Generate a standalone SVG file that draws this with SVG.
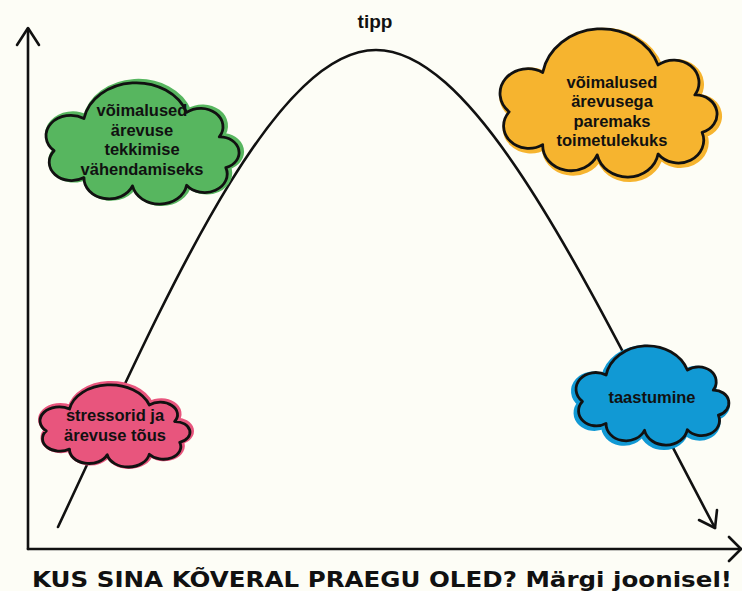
<svg xmlns="http://www.w3.org/2000/svg" xmlns:xlink="http://www.w3.org/1999/xlink" width="742" height="591" viewBox="0 0 742 591">
  <style>
    .bg { fill: #fdfdf6; }
    .axis, .curve, .head { fill: none; stroke: #111; stroke-width: 2.6; stroke-linecap: round; stroke-linejoin: round; }
    .halo { stroke-width: 6; stroke-linejoin: round; }
    .outline { stroke: #111; stroke-width: 2.8; stroke-linejoin: round; }
    .lbl { font-family: "Liberation Sans", Arial, sans-serif; font-weight: bold; font-size: 16.5px; fill: #111; text-anchor: middle; }
    .tipp { font-size: 19px; }
    .title { font-family: "DejaVu Sans", "Liberation Sans", sans-serif; font-weight: bold; font-size: 21px; fill: #111; }
    .green { fill: #57b65f; stroke: #57b65f; }
    .orange { fill: #f6b42f; stroke: #f6b42f; }
    .pink { fill: #e8557d; stroke: #e8557d; }
    .blue { fill: #1199d4; stroke: #1199d4; }
  </style>
  <defs>
    <path id="cloud" vector-effect="non-scaling-stroke" d="M8,80 A26.5,26.5 0 0 1 40,38 A57,57 0 0 1 150,30 A24,24 0 0 1 185,62 A20.5,20.5 0 0 1 192,102 A24.2,24.2 0 0 1 150,125 A29.5,29.5 0 0 1 92,126 A27,27 0 0 1 40,115 A24,24 0 0 1 8,80 Z"/>
  </defs>
  <rect class="bg" x="0" y="0" width="742" height="591"/>

  <g id="connectors">
    <path class="axis" d="M28,549 V29"/>
    <path class="head" d="M17,45 L28,28 L39,45"/>
    <path class="axis" d="M28,549 H741"/>
    <path class="head" d="M729,537 L741,549 L729,561"/>
    <path class="curve" d="M58,527 C160,310 270,50 376,50 C482,50 598,308 715,528"/>
    <path class="head" d="M699,520 L715,528 L717,510"/>
  </g>

  <g id="tipp">
    <text class="lbl tipp" x="375" y="28">tipp</text>
  </g>

  <g id="cloud-green">
    <use xlink:href="#cloud" class="green halo" transform="translate(48,82) scale(0.933,0.766) translate(0.7,8.4)"/>
    <use xlink:href="#cloud" class="green outline" style="stroke:#111" transform="translate(46,83) scale(0.933,0.766) translate(0.7,8.4)"/>
    <text class="lbl" x="142" y="116">võimalused</text>
    <text class="lbl" x="142" y="135.7">ärevuse</text>
    <text class="lbl" x="142" y="155.3">tekkimise</text>
    <text class="lbl" x="142" y="175">vähendamiseks</text>
  </g>

  <g id="cloud-orange">
    <use xlink:href="#cloud" class="orange halo" transform="translate(502,31) scale(1.049,0.937) translate(0.7,8.4)"/>
    <use xlink:href="#cloud" class="orange outline" style="stroke:#111" transform="translate(500,29) scale(1.049,0.937) translate(0.7,8.4)"/>
    <text class="lbl" x="612" y="88">võimalused</text>
    <text class="lbl" x="612" y="107.3">ärevusega</text>
    <text class="lbl" x="612" y="126.7">paremaks</text>
    <text class="lbl" x="612" y="146">toimetulekuks</text>
  </g>

  <g id="cloud-pink">
    <use xlink:href="#cloud" class="pink halo" transform="translate(41,384) scale(0.725,0.519) translate(0.7,8.4)"/>
    <use xlink:href="#cloud" class="pink outline" style="stroke:#111" transform="translate(40,385) scale(0.725,0.519) translate(0.7,8.4)"/>
    <text class="lbl" x="115" y="421">stressorid ja</text>
    <text class="lbl" x="115" y="441">ärevuse tõus</text>
  </g>

  <g id="cloud-blue">
    <use xlink:href="#cloud" class="blue halo" transform="translate(574,348) scale(0.739,0.627) translate(0.7,8.4)"/>
    <use xlink:href="#cloud" class="blue outline" style="stroke:#111" transform="translate(576,346) scale(0.739,0.627) translate(0.7,8.4)"/>
    <text class="lbl" x="652" y="403">taastumine</text>
  </g>

  <g id="title">
    <text class="title" x="32" y="587" textLength="700" lengthAdjust="spacingAndGlyphs">KUS SINA KÕVERAL PRAEGU OLED? Märgi joonisel!</text>
  </g>
</svg>
